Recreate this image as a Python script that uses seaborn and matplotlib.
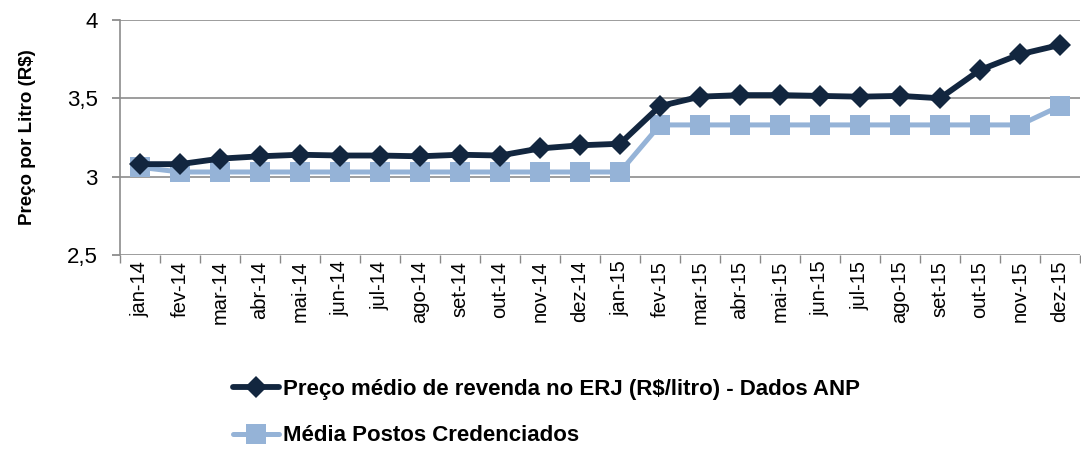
import numpy as np
import pandas as pd
import matplotlib
matplotlib.use("Agg")
import matplotlib.pyplot as plt
import seaborn as sns

meses = ["jan-14", "fev-14", "mar-14", "abr-14", "mai-14", "jun-14", "jul-14", "ago-14",
         "set-14", "out-14", "nov-14", "dez-14", "jan-15", "fev-15", "mar-15", "abr-15",
         "mai-15", "jun-15", "jul-15", "ago-15", "set-15", "out-15", "nov-15", "dez-15"]

preco_anp = [3.08, 3.08, 3.115, 3.13, 3.14, 3.135, 3.135, 3.13, 3.14, 3.135, 3.18, 3.20,
             3.21, 3.45, 3.51, 3.52, 3.52, 3.515, 3.51, 3.515, 3.50, 3.68, 3.78, 3.84]
media_postos = [3.06, 3.03, 3.03, 3.03, 3.03, 3.03, 3.03, 3.03, 3.03, 3.03, 3.03, 3.03,
                3.03, 3.33, 3.33, 3.33, 3.33, 3.33, 3.33, 3.33, 3.33, 3.33, 3.33, 3.45]

label_anp = "Preço médio de revenda no ERJ (R$/litro) - Dados ANP"
label_postos = "Média Postos Credenciados"

sns.set_theme(style="white")
plt.rcParams["font.family"] = ["Liberation Sans", "DejaVu Sans"]
plt.rcParams["text.color"] = "black"
plt.rcParams["axes.labelcolor"] = "black"
plt.rcParams["xtick.labelcolor"] = "black"
plt.rcParams["ytick.labelcolor"] = "black"

df = pd.DataFrame({"mes": np.arange(len(meses)), "anp": preco_anp, "postos": media_postos})

fig = plt.figure(figsize=(10.81, 4.5), dpi=100)
ax = fig.add_axes([0.111, 0.433, 0.888, 0.523])

sns.lineplot(data=df, x="mes", y="anp", ax=ax, color="#12263f", linewidth=4.2,
             marker="D", markersize=11, markeredgewidth=0, label=label_anp)
sns.lineplot(data=df, x="mes", y="postos", ax=ax, color="#95b3d7", linewidth=3.6,
             marker="s", markersize=14, markeredgewidth=0, label=label_postos)
# dark series drawn above the light one like the reference
ax.lines[0].set_zorder(4)
ax.lines[1].set_zorder(3)

ax.set_xlim(-0.5, len(meses) - 0.5)
ax.set_ylim(2.5, 4)
ax.set_yticks([2.5, 3, 3.5, 4])
ax.set_yticklabels(["2,5", "3", "3,5", "4"], fontsize=16)
ax.set_xticks(np.arange(len(meses)))
ax.set_xticklabels(meses, rotation=90, fontsize=14.5)
ax.set_xticks(np.arange(len(meses) + 1) - 0.5, minor=True)
ax.tick_params(axis="x", which="major", length=0, pad=4)
ax.tick_params(axis="x", which="minor", length=6, color="#888888", direction="out", bottom=True)
ax.tick_params(axis="y", length=6, color="#888888", direction="out", left=True, pad=10)

ax.yaxis.grid(True, color="#8c8c8c", linewidth=1.2)
ax.set_axisbelow(True)
for s in ["top", "right", "bottom"]:
    ax.spines[s].set_visible(False)
ax.spines["left"].set_color("#8c8c8c")
ax.spines["left"].set_linewidth(1.2)

ax.set_xlabel("")
ax.set_ylabel("Preço por Litro (R$)", fontsize=13.5, fontweight="bold", labelpad=22)

handles, labels = ax.get_legend_handles_labels()
ax.get_legend().remove()
fig.legend(handles, labels, loc="upper left", bbox_to_anchor=(0.207, 0.178),
           frameon=False, prop={"size": 16, "weight": "bold"},
           handlelength=2.1, labelspacing=1.15, handletextpad=0.15, borderaxespad=0)

fig.savefig("out.png", dpi=100)
